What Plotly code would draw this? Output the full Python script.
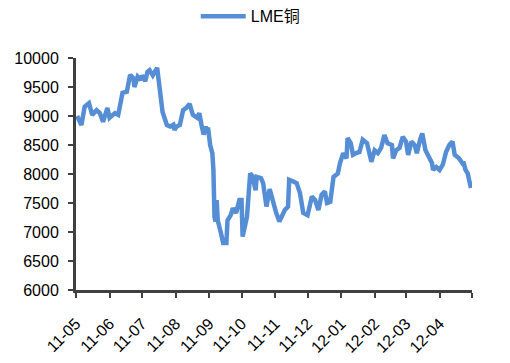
import plotly.graph_objects as go

dates = [
    "2011-05-02", "2011-05-04", "2011-05-06", "2011-05-09", "2011-05-13", "2011-05-16",
    "2011-05-20", "2011-05-23", "2011-05-26", "2011-05-30", "2011-06-01", "2011-06-06",
    "2011-06-09", "2011-06-13", "2011-06-17", "2011-06-20", "2011-06-23", "2011-06-24",
    "2011-06-27", "2011-06-30", "2011-07-01", "2011-07-04", "2011-07-06", "2011-07-08",
    "2011-07-11", "2011-07-15", "2011-07-16", "2011-07-18", "2011-07-20", "2011-07-24",
    "2011-07-27", "2011-07-30", "2011-07-31", "2011-08-02", "2011-08-05", "2011-08-08",
    "2011-08-11", "2011-08-14", "2011-08-17", "2011-08-21", "2011-08-23", "2011-08-25",
    "2011-08-27", "2011-08-29", "2011-08-30", "2011-08-31", "2011-09-02", "2011-09-04",
    "2011-09-05", "2011-09-06", "2011-09-07", "2011-09-08", "2011-09-09", "2011-09-12",
    "2011-09-14", "2011-09-17", "2011-09-18", "2011-09-21", "2011-09-23", "2011-09-26",
    "2011-09-29", "2011-10-01", "2011-10-02", "2011-10-06", "2011-10-09", "2011-10-11",
    "2011-10-14", "2011-10-15", "2011-10-19", "2011-10-21", "2011-10-24", "2011-10-27",
    "2011-10-30", "2011-11-02", "2011-11-05", "2011-11-10", "2011-11-13", "2011-11-14",
    "2011-11-18", "2011-11-21", "2011-11-24", "2011-11-27", "2011-12-01", "2011-12-05",
    "2011-12-08", "2011-12-11", "2011-12-14", "2011-12-17", "2011-12-19", "2011-12-22",
    "2011-12-25", "2011-12-29", "2011-12-31", "2012-01-03", "2012-01-06", "2012-01-07",
    "2012-01-10", "2012-01-12", "2012-01-15", "2012-01-18", "2012-01-21", "2012-01-25",
    "2012-01-29", "2012-02-01", "2012-02-04", "2012-02-07", "2012-02-10", "2012-02-13",
    "2012-02-17", "2012-02-18", "2012-02-21", "2012-02-24", "2012-02-27", "2012-03-01",
    "2012-03-03", "2012-03-06", "2012-03-09", "2012-03-11", "2012-03-14", "2012-03-16",
    "2012-03-19", "2012-03-21", "2012-03-25", "2012-03-26", "2012-03-29", "2012-04-01",
    "2012-04-04", "2012-04-07", "2012-04-10", "2012-04-13", "2012-04-15", "2012-04-19",
    "2012-04-22", "2012-04-23", "2012-04-25", "2012-04-27", "2012-04-30",
]

lme_copper = [
    9000, 8900, 8845, 9160, 9220, 9020,
    9100, 9050, 8900, 9140, 8970, 9050,
    9020, 9400, 9420, 9710, 9650, 9500,
    9680, 9620, 9700, 9600, 9760, 9790,
    9700, 9830, 9700, 9360, 9070, 8845,
    8820, 8850, 8760, 8820, 8845, 9100,
    9140, 9210, 9020, 8970, 9050, 8845,
    8680, 8820, 8700, 8800, 8500, 8360,
    8070, 7260, 7180, 7550, 7200, 6980,
    6810, 6810, 7200, 7290, 7410, 7330,
    7550, 7550, 6920, 7260, 8010, 7960,
    7720, 7950, 7930, 7840, 7440, 7740,
    7500, 7330, 7180, 7380, 7440, 7900,
    7870, 7840, 7670, 7330, 7290, 7610,
    7550, 7380, 7640, 7700, 7500, 7520,
    7950, 8010, 8190, 8360, 8270, 8620,
    8530, 8330, 8360, 8380, 8590, 8530,
    8210, 8410, 8360, 8450, 8670, 8530,
    8500, 8270, 8410, 8450, 8640, 8560,
    8330, 8560, 8500, 8360, 8590, 8700,
    8410, 8330, 8190, 8070, 8120, 8070,
    8160, 8380, 8500, 8560, 8330, 8270,
    8190, 8210, 8070, 8010, 7760,
]

month_ticks = [
    "2011-05-01", "2011-06-01", "2011-07-01", "2011-08-01", "2011-09-01", "2011-10-01",
    "2011-11-01", "2011-12-01", "2012-01-01", "2012-02-01", "2012-03-01", "2012-04-01",
    "2012-05-01",
]
month_labels = [
    "11-05", "11-06", "11-07", "11-08", "11-09", "11-10",
    "11-11", "11-12", "12-01", "12-02", "12-03", "12-04", "",
]
y_ticks = [6000, 6500, 7000, 7500, 8000, 8500, 9000, 9500, 10000]
y_labels = ["6000", "6500", "7000", "7500", "8000", "8500", "9000", "9500", "10000"]

fig = go.Figure()
fig.add_trace(go.Scatter(
    x=dates, y=lme_copper, mode="lines", name="LME铜",
    line=dict(color="#558ED5", width=4.5),
))

font_family = "Liberation Sans, Arial, Noto Sans CJK SC, sans-serif"
fig.update_layout(
    width=510, height=363,
    margin=dict(l=68, r=46, t=50, b=81, autoexpand=False),
    paper_bgcolor="white", plot_bgcolor="white",
    font=dict(family=font_family, size=16, color="#000000"),
    showlegend=True,
    legend=dict(
        orientation="h", x=0.44, xanchor="center", y=1.18, yanchor="middle",
        font=dict(size=16, family=font_family), itemwidth=45,
    ),
    xaxis=dict(
        type="date", automargin=False,
        range=["2011-05-01", "2012-05-01"],
        tickmode="array", tickvals=month_ticks, ticktext=month_labels,
        tickangle=-45,
        showgrid=False, zeroline=False,
        showline=True, linecolor="#404040", linewidth=3,
        ticks="outside", ticklen=5, tickwidth=2, tickcolor="#404040",
        ticklabelstandoff=10,
        tickfont=dict(size=16),
    ),
    yaxis=dict(
        automargin=False,
        range=[6000, 10000],
        tickmode="array", tickvals=y_ticks, ticktext=y_labels,
        showgrid=False, zeroline=False,
        showline=True, linecolor="#404040", linewidth=3,
        ticks="outside", ticklen=5, tickwidth=2, tickcolor="#404040",
        ticklabelstandoff=6,
        tickfont=dict(size=16),
    ),
)

fig.write_html("out.html")
